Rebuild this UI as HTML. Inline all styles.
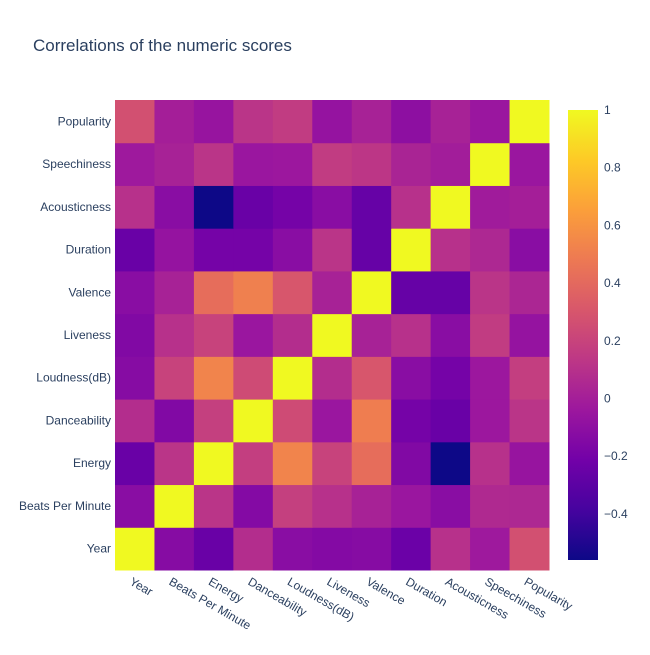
<!DOCTYPE html>
<html><head><meta charset="utf-8"><style>
body{margin:0;background:#fff;font-family:"Liberation Sans",sans-serif}
text{font-family:"Liberation Sans",sans-serif;fill:#2a3f5f}
</style></head><body>
<svg id="c" width="650" height="650">
<text x="33" y="51" font-size="17">Correlations of the numeric scores</text>
<defs><linearGradient id="cg" x1="0" y1="1" x2="0" y2="0">
<stop offset="0" stop-color="#0d0887"/><stop offset="0.111" stop-color="#46039f"/><stop offset="0.222" stop-color="#7201a8"/><stop offset="0.333" stop-color="#9c179e"/><stop offset="0.444" stop-color="#bd3786"/><stop offset="0.556" stop-color="#d8576b"/><stop offset="0.667" stop-color="#ed7953"/><stop offset="0.778" stop-color="#fb9f3a"/><stop offset="0.889" stop-color="#fdca26"/><stop offset="1" stop-color="#f0f921"/></linearGradient></defs>
<rect x="568" y="110" width="30" height="450" fill="url(#cg)"/>
</svg>
<script>
const labels=["Year","Beats Per Minute","Energy","Danceability","Loudness(dB)","Liveness","Valence","Duration","Acousticness","Speechiness","Popularity"];
// rows listed from Year (bottom) to Popularity (top)
const rowYear=[1,-0.13,-0.25,0.08,-0.12,-0.14,-0.13,-0.24,0.1,-0.03,0.27];
const rowBPM=[-0.12,1,0.12,-0.14,0.18,0.1,0.02,-0.05,-0.12,0.06,0.05];
const rowEnergy=[-0.25,0.12,1,0.17,0.53,0.2,0.42,-0.15,-0.56,0.1,-0.06];
const rowDance=[0.08,-0.15,0.18,1,0.24,-0.05,0.5,-0.2,-0.25,-0.04,0.12];
const rowLoud=[-0.13,0.2,0.53,0.24,1,0.08,0.3,-0.12,-0.2,-0.04,0.17];
const rowLive=[-0.15,0.1,0.2,-0.05,0.08,1,0.02,0.1,-0.12,0.16,-0.07];
const rowVal=[-0.12,0.02,0.42,0.51,0.3,0.02,1,-0.26,-0.26,0.12,0.04];
const rowDur=[-0.25,-0.07,-0.2,-0.2,-0.12,0.12,-0.26,1,0.1,0.05,-0.12];
const rowAcous=[0.1,-0.12,-0.56,-0.25,-0.2,-0.12,-0.26,0.1,1,-0.02,0.0];
const rowSpeech=[-0.03,0.02,0.12,-0.05,-0.04,0.16,0.13,0.03,-0.01,1,-0.05];
const rowPop=[0.27,0.0,-0.06,0.12,0.16,-0.07,0.02,-0.1,0.02,-0.05,1];
const cbTicks=[1,0.8,0.6,0.4,0.2,0,-0.2,-0.4];
const cbLabels=["1","0.8","0.6","0.4","0.2","0","−0.2","−0.4"];
const rows=[rowYear,rowBPM,rowEnergy,rowDance,rowLoud,rowLive,rowVal,rowDur,rowAcous,rowSpeech,rowPop];
const zmin=-0.56,zmax=1;
const X0=115,X1=549,Y0=100,Y1=570,n=labels.length;
const cw=(X1-X0)/n,ch=(Y1-Y0)/n;
const xs=i=>X0+i*cw, ys=j=>Y1-(j+1)*ch;
const stops=["#0d0887","#46039f","#7201a8","#9c179e","#bd3786","#d8576b","#ed7953","#fb9f3a","#fdca26","#f0f921"];
function hex(h){return [1,3,5].map(i=>parseInt(h.substr(i,2),16));}
function plasma(v){let t=(v-zmin)/(zmax-zmin);t=Math.max(0,Math.min(1,t));const p=t*9,i=Math.min(8,Math.floor(p)),f=p-i;const a=hex(stops[i]),b=hex(stops[i+1]);return `rgb(${a.map((c,k)=>Math.round(c+(b[k]-c)*f)).join(',')})`;}
const svg=document.getElementById('c'),NS="http://www.w3.org/2000/svg";
function mk(tag,at){const e=document.createElementNS(NS,tag);for(const k in at)e.setAttribute(k,at[k]);svg.appendChild(e);return e;}
rows.forEach((r,j)=>r.forEach((v,i)=>{
 const e=mk('rect',{x:xs(i),y:ys(j),width:cw+0.5,height:ch+0.5,fill:plasma(v)});
 
 
}));
labels.forEach((l,j)=>{
 const t=mk('text',{x:X0-4,y:ys(j)+ch/2+4,'font-size':12,'text-anchor':'end'});t.textContent=l;
 
 
 const cx=xs(j)+cw/2-6,cy=Y1+14;
 const u=mk('text',{x:cx,y:cy,'font-size':12,transform:`rotate(30 ${cx} ${cy})`});u.textContent=l;
 
 
});
const cbY=v=>560-(v-zmin)/(zmax-zmin)*450;
cbTicks.forEach((v,k)=>{
 const t=mk('text',{x:604,y:cbY(v)+4,'font-size':12});t.textContent=cbLabels[k];
 
 
});
</script>
</body></html>
